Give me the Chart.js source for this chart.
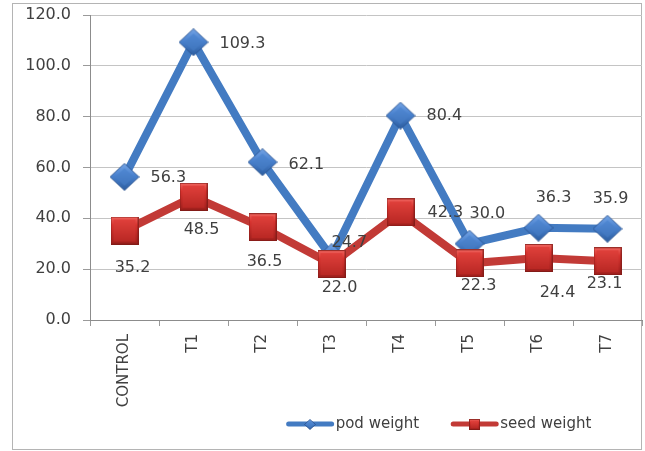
<!DOCTYPE html>
<html>
<head>
<meta charset="utf-8">
<script src="https://cdn.jsdelivr.net/npm/chart.js@4.4.1/dist/chart.umd.min.js"></script>
<style>
  html, body { margin: 0; padding: 0; background: #ffffff; }
  #wrap { width: 645px; height: 451px; position: relative; }
</style>
</head>
<body>
<div id="wrap"><canvas id="c" width="645" height="451"></canvas></div>
<script>
// ---- data ----
const categories = ['CONTROL', 'T1', 'T2', 'T3', 'T4', 'T5', 'T6', 'T7'];
const podWeight  = [56.3, 109.3, 62.1, 24.7, 80.4, 30.0, 36.3, 35.9];
const seedWeight = [35.2, 48.5, 36.5, 22.0, 42.3, 22.3, 24.4, 23.1];
const yTicks = [0, 20, 40, 60, 80, 100, 120];
const seriesNames = ['pod weight', 'seed weight'];

// ---- styling ----
const TEXT = '#404040';
const FONT = '"DejaVu Sans", "Liberation Sans", sans-serif';
const BLUE = '#437bc2';
const RED = '#c23a36';

// value-label placement relative to each point: [dx, dy, align]
const podLabelPos = [
  [26, 1, 'left'], [26, 2, 'left'], [26, 3, 'left'], [0, -14, 'left'],
  [26, 0, 'left'], [0, -30, 'left'], [15, -30, 'center'], [3, -30, 'center']
];
const seedLabelPos = [
  [8, 37, 'center'], [8, 33, 'center'], [2, 35, 'center'], [8, 24, 'center'],
  [27, 0, 'left'], [9, 23, 'center'], [19, 35, 'center'], [-3, 23, 'center']
];

// beveled marker sprites
function makeDiamond(w, h) {
  const c = document.createElement('canvas');
  c.width = w; c.height = h;
  const g = c.getContext('2d');
  const path = () => {
    g.beginPath();
    g.moveTo(w / 2, 0.5); g.lineTo(w - 0.5, h / 2);
    g.lineTo(w / 2, h - 0.5); g.lineTo(0.5, h / 2); g.closePath();
  };
  const grad = g.createLinearGradient(0, 0, 0, h);
  grad.addColorStop(0, '#77a6e6');
  grad.addColorStop(0.45, '#4a82cf');
  grad.addColorStop(1, '#2b5c9e');
  path(); g.fillStyle = grad; g.fill();
  // inner face
  const s = 0.62;
  g.beginPath();
  g.moveTo(w / 2, h / 2 - h / 2 * s); g.lineTo(w / 2 + w / 2 * s, h / 2);
  g.lineTo(w / 2, h / 2 + h / 2 * s); g.lineTo(w / 2 - w / 2 * s, h / 2); g.closePath();
  const g2 = g.createLinearGradient(0, 0, 0, h);
  g2.addColorStop(0, '#568fdb'); g2.addColorStop(1, '#3a6fb6');
  g.fillStyle = g2; g.fill();
  path(); g.strokeStyle = 'rgba(40,80,140,0.8)'; g.lineWidth = 1; g.stroke();
  return c;
}
function makeSquare(s) {
  const c = document.createElement('canvas');
  c.width = s; c.height = s;
  const g = c.getContext('2d');
  const grad = g.createLinearGradient(0, 0, 0, s);
  grad.addColorStop(0, '#f06660');
  grad.addColorStop(0.3, '#d8332f');
  grad.addColorStop(1, '#9c1f1c');
  g.fillStyle = grad; g.fillRect(0, 0, s, s);
  const b = Math.max(2, Math.round(s * 0.12));
  const g2 = g.createLinearGradient(0, b, 0, s - b);
  g2.addColorStop(0, '#e0403b'); g2.addColorStop(1, '#b92824');
  g.fillStyle = g2; g.fillRect(b, b, s - 2 * b, s - 2 * b);
  g.strokeStyle = 'rgba(120,25,22,0.7)'; g.lineWidth = 1;
  g.strokeRect(0.5, 0.5, s - 1, s - 1);
  return c;
}
const diamondImg = makeDiamond(30, 28);
const squareImg = makeSquare(28);
const diamondSmall = makeDiamond(12, 11);
const squareSmall = makeSquare(11);

// outer frame
const framePlugin = {
  id: 'frame',
  beforeDraw(chart) {
    const ctx = chart.ctx;
    ctx.save();
    ctx.fillStyle = '#ffffff';
    ctx.fillRect(0, 0, chart.width, chart.height);
    ctx.strokeStyle = '#b4b4b4';
    ctx.lineWidth = 1;
    ctx.strokeRect(12.5, 3.5, chart.width - 16, chart.height - 5);
    ctx.restore();
  }
};

// value labels next to the markers
const valueLabels = {
  id: 'valueLabels',
  afterDatasetsDraw(chart) {
    const ctx = chart.ctx;
    ctx.save();
    ctx.font = '16px ' + FONT;
    ctx.fillStyle = TEXT;
    ctx.textBaseline = 'middle';
    const place = [podLabelPos, seedLabelPos];
    chart.data.datasets.forEach((ds, di) => {
      const meta = chart.getDatasetMeta(di);
      meta.data.forEach((pt, i) => {
        const [dx, dy, align] = place[di][i];
        ctx.textAlign = align;
        ctx.fillText(ds.data[i].toFixed(1), pt.x + dx, pt.y + dy);
      });
    });
    ctx.restore();
  }
};

// legend with line + marker samples
const lineLegend = {
  id: 'lineLegend',
  afterDraw(chart) {
    const ctx = chart.ctx;
    ctx.save();
    ctx.font = '15px ' + FONT;
    ctx.fillStyle = TEXT;
    ctx.textBaseline = 'middle';
    ctx.textAlign = 'left';
    const sampleW = 47, gapText = 2, gapItem = 32;
    const items = chart.data.datasets.map((ds, i) => ({
      label: ds.label, color: ds.borderColor, img: i === 0 ? diamondSmall : squareSmall,
      tw: ctx.measureText(ds.label).width
    }));
    const total = items.reduce((a, it) => a + sampleW + gapText + it.tw, 0) + gapItem * (items.length - 1);
    let x = 439 - total / 2;
    const y = 424;
    items.forEach(it => {
      ctx.strokeStyle = it.color;
      ctx.lineWidth = 5;
      ctx.lineCap = 'round';
      ctx.beginPath();
      ctx.moveTo(x + 2, y); ctx.lineTo(x + sampleW - 2, y); ctx.stroke();
      ctx.drawImage(it.img, Math.round(x + sampleW / 2 - it.img.width / 2), Math.round(y - it.img.height / 2));
      ctx.fillText(it.label, x + sampleW + gapText, y);
      x += sampleW + gapText + it.tw + gapItem;
    });
    ctx.restore();
  }
};

new Chart(document.getElementById('c'), {
  type: 'line',
  data: {
    labels: categories,
    datasets: [
      {
        label: seriesNames[0],
        data: podWeight,
        borderColor: BLUE,
        borderWidth: 8,
        pointStyle: diamondImg,
        pointRadius: 14,
        tension: 0,
        clip: false,
        order: 2
      },
      {
        label: seriesNames[1],
        data: seedWeight,
        borderColor: RED,
        borderWidth: 8,
        pointStyle: squareImg,
        pointRadius: 14,
        tension: 0,
        clip: false,
        order: 1
      }
    ]
  },
  options: {
    responsive: false,
    animation: false,
    devicePixelRatio: 1,
    layout: { autoPadding: false, padding: { left: 0, right: 3, top: 15, bottom: 0 } },
    plugins: {
      legend: { display: false },
      tooltip: { enabled: false }
    },
    scales: {
      y: {
        min: yTicks[0],
        max: yTicks[yTicks.length - 1],
        afterBuildTicks(scale) { scale.ticks = yTicks.map(v => ({ value: v })); },
        afterFit(scale) {
          scale.width = 90;
          scale.paddingTop = 0; scale.paddingBottom = 0;
        },
        ticks: {
          color: TEXT,
          font: { family: FONT, size: 16 },
          padding: 12,
          callback: v => Number(v).toFixed(1)
        },
        grid: { color: '#c4c4c4', lineWidth: 1, tickLength: 7, tickColor: '#9a9a9a' },
        border: { color: '#8c8c8c', width: 1 }
      },
      x: {
        offset: true,
        afterFit(scale) {
          scale.height = 131;
          scale.paddingLeft = 0; scale.paddingRight = 0;
        },
        ticks: {
          color: TEXT,
          font: { family: FONT, size: 15 },
          padding: 8,
          maxRotation: 90,
          minRotation: 90,
          autoSkip: false
        },
        grid: { offset: true, drawOnChartArea: false, tickLength: 6, color: '#9a9a9a' },
        border: { color: '#8c8c8c', width: 1 }
      }
    }
  },
  plugins: [framePlugin, valueLabels, lineLegend]
});
</script>
</body>
</html>
